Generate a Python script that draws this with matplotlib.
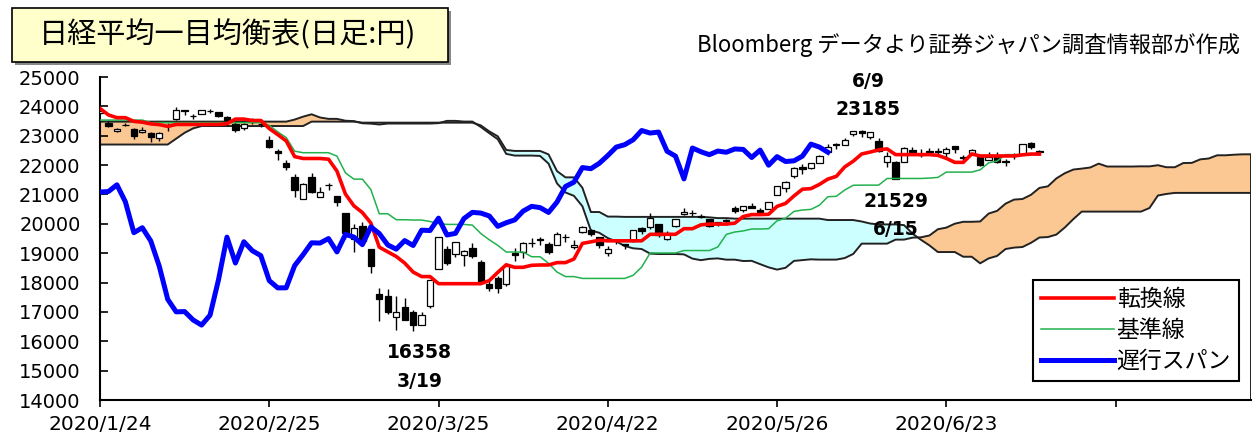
import numpy as np
import matplotlib
matplotlib.use("Agg")
import matplotlib.pyplot as plt
from matplotlib.patches import Rectangle

plt.rcParams['font.family'] = ['DejaVu Sans', 'Noto Sans CJK JP']

# -- DAILY CANDLES (2020/1/24 .. 2020/7/8, trading days)
opens = [23757, 23431, 23171, 23381, 23227, 23116, 23080, 22919, 23325, 23554,
         23884, 23658, 23743, 23850, 23800, 23644, 23410, 23269, 23491, 23412,
         22849, 22483, 22085, 21602, 20849, 21590, 20897, 21321, 20950, 20355,
         19474, 19923, 19140, 17600, 17558, 16824, 17154, 16995, 16570, 17206,
         18446, 19149, 18960, 18933, 19181, 18687, 17934, 18150, 17941, 19005,
         19032, 19334, 19446, 19318, 19278, 19548, 19212, 19736, 19795, 19554,
         18993, 19403, 19329, 19422, 19873, 19876, 20007, 19468, 19915, 20336,
         20367, 20239, 20160, 20050, 20087, 20545, 20465, 20610, 20463, 20519,
         20993, 21232, 21629, 21920, 21889, 22075, 22432, 22735, 22697, 23052,
         23177, 22951, 22811, 22109, 22101, 22107, 22518, 22340, 22455, 22475,
         22404, 22657, 22251, 22398, 22263, 22187, 22298, 22090, 22321, 22389,
         22749, 22493]
highs = [23863, 23512, 23271, 23444, 23279, 23293, 23136, 23114, 23433, 23995,
         23891, 23743, 23875, 23900, 23800, 23661, 23466, 23440, 23601, 23553,
         22977, 22553, 22174, 21697, 21394, 21719, 21245, 21399, 20950, 20355,
         19980, 20048, 19158, 17800, 17785, 17557, 17480, 17079, 16995, 18100,
         19564, 19241, 19389, 19114, 19336, 18784, 18132, 18207, 18593, 19188,
         19394, 19528, 19550, 19368, 19712, 19649, 19452, 19922, 19807, 19554,
         19247, 19477, 19329, 19783, 19903, 20365, 20007, 19745, 20179, 20534,
         20460, 20340, 20170, 20072, 20156, 20593, 20595, 20726, 20523, 20747,
         21285, 21456, 21926, 22022, 22062, 22345, 22710, 22740, 22907, 23178,
         23185, 23135, 22930, 22429, 22145, 22616, 22618, 22538, 22582, 22578,
         22625, 22657, 22354, 22552, 22263, 22437, 22441, 22196, 22410, 22735,
         22787, 22519]
lows = [23739, 23301, 23115, 23341, 22892, 23097, 22775, 22826, 23151, 23523,
        23716, 23573, 23726, 23773, 23623, 23335, 23138, 23193, 23397, 23304,
        22587, 22177, 21845, 20916, 20849, 21050, 20897, 21136, 20613, 19475,
        19049, 19305, 18339, 16690, 16914, 16378, 16720, 16358, 16570, 17130,
        18446, 18612, 18878, 18578, 18834, 18034, 17707, 17646, 17889, 18743,
        18849, 19209, 19294, 18962, 19265, 19377, 19152, 19683, 19586, 19164,
        18920, 19329, 19134, 19396, 19644, 19838, 19563, 19448, 19907, 20299,
        20272, 20183, 19902, 19930, 19974, 20356, 20388, 20532, 20336, 20492,
        20970, 21086, 21573, 21700, 21852, 22072, 22396, 22532, 22694, 22992,
        22941, 22887, 22446, 21920, 21529, 22100, 22443, 22286, 22348, 22389,
        22246, 22422, 22152, 22367, 21964, 22187, 22081, 21965, 22212, 22382,
        22562, 22349]
closes = [23827, 23343, 23215, 23379, 22977, 23205, 22971, 23084, 23319, 23873,
          23827, 23685, 23861, 23827, 23687, 23523, 23194, 23400, 23479, 23386,
          22605, 22426, 21948, 21142, 21344, 21082, 21100, 21329, 20749, 19698,
          19867, 19416, 18559, 17431, 17002, 17011, 16726, 16552, 16887, 18092,
          19546, 18664, 19389, 19084, 18917, 18065, 17819, 17820, 18576, 18950,
          19353, 19345, 19498, 19043, 19638, 19550, 19290, 19897, 19669, 19280,
          19138, 19429, 19262, 19783, 19771, 20193, 19619, 19675, 20179, 20390,
          20366, 20267, 19915, 20037, 20133, 20433, 20595, 20552, 20388, 20741,
          21271, 21419, 21916, 21877, 22062, 22325, 22613, 22695, 22863, 23178,
          23091, 23124, 22472, 22305, 21530, 22582, 22455, 22355, 22478, 22437,
          22549, 22534, 22259, 22512, 21995, 22288, 22122, 22145, 22306, 22714,
          22614, 22438]

# -- ICHIMOKU LINES
tenkan = [23927, 23708, 23615, 23615, 23488, 23462, 23403, 23379, 23319, 23385,
          23385, 23385, 23385, 23385, 23385, 23410, 23567, 23567, 23519, 23519,
          23244, 23039, 22823, 22289, 22225, 22225, 22225, 22201, 21795, 21014,
          20612, 20384, 20029, 19205, 19045, 18889, 18664, 18357, 18203, 18203,
          17961, 17961, 17961, 17961, 17961, 17961, 18067, 18347, 18605, 18518,
          18520, 18587, 18598, 18598, 18679, 18679, 18801, 19333, 19386, 19442,
          19421, 19421, 19421, 19421, 19421, 19643, 19643, 19643, 19643, 19834,
          19834, 19965, 19991, 19991, 19991, 20021, 20249, 20314, 20314, 20325,
          20594, 20693, 20950, 21179, 21199, 21341, 21523, 21616, 21939, 22132,
          22379, 22443, 22519, 22553, 22357, 22357, 22357, 22357, 22357, 22332,
          22230, 22093, 22093, 22379, 22311, 22311, 22311, 22311, 22311, 22350,
          22376, 22376]
kijun = [23533, 23533, 23533, 23533, 23533, 23533, 23445, 23445, 23445, 23445,
         23445, 23445, 23445, 23445, 23445, 23445, 23445, 23445, 23445, 23445,
         23351, 23130, 22938, 22474, 22422, 22422, 22422, 22422, 22304, 21735,
         21522, 21522, 21167, 20343, 20343, 20139, 20139, 20129, 20129, 20079,
         20010, 19980, 19980, 19980, 19956, 19668, 19456, 19266, 19039, 19039,
         19039, 18879, 18879, 18654, 18357, 18203, 18203, 18140, 18140, 18140,
         18140, 18140, 18140, 18246, 18526, 19006, 19006, 19006, 19006, 19090,
         19090, 19090, 19090, 19212, 19639, 19721, 19758, 19823, 19823, 19834,
         20103, 20188, 20423, 20471, 20491, 20633, 20922, 20937, 21152, 21313,
         21317, 21317, 21317, 21544, 21544, 21544, 21544, 21544, 21558, 21580,
         21761, 21761, 21761, 21761, 21839, 22078, 22136, 22357, 22357, 22357,
         22357, 22357]
span_a = [23480, 23480, 23480, 23480, 23480, 23480, 23480, 23480, 23480, 23480,
          23480, 23480, 23480, 23480, 23480, 23480, 23480, 23480, 23480, 23480,
          23480, 23480, 23480, 23550, 23650, 23730, 23621, 23574, 23574, 23511,
          23498, 23424, 23412, 23382, 23415, 23415, 23415, 23415, 23415, 23415,
          23428, 23506, 23506, 23482, 23482, 23298, 23085, 22881, 22382, 22324,
          22324, 22324, 22312, 22050, 21375, 21067, 20953, 20598, 19774, 19694,
          19514, 19402, 19243, 19166, 19141, 18986, 18971, 18971, 18971, 18959,
          18815, 18762, 18807, 18822, 18779, 18780, 18733, 18739, 18626, 18518,
          18441, 18502, 18737, 18763, 18791, 18781, 18781, 18781, 18834, 18974,
          19325, 19325, 19325, 19325, 19462, 19462, 19528, 19541, 19602, 19815,
          19871, 20004, 20069, 20069, 20080, 20349, 20441, 20687, 20825, 20845,
          20987, 21223, 21277, 21546, 21723, 21848, 21880, 21918, 22049, 21951,
          21951, 21951, 21951, 21958, 21956, 21996, 21927, 21927, 22070, 22075,
          22195, 22224, 22334, 22334, 22354, 22367, 22367]
span_b = [22700, 22700, 22700, 22700, 22700, 22700, 22700, 22700, 22700, 22900,
          23100, 23250, 23330, 23330, 23330, 23330, 23330, 23330, 23330, 23330,
          23330, 23330, 23330, 23330, 23330, 23480, 23480, 23480, 23480, 23480,
          23480, 23445, 23445, 23445, 23445, 23445, 23445, 23445, 23445, 23445,
          23445, 23445, 23445, 23445, 23445, 23351, 23146, 22980, 22515, 22482,
          22482, 22482, 22482, 22364, 21795, 21582, 21582, 21227, 20402, 20402,
          20246, 20246, 20236, 20236, 20236, 20236, 20236, 20236, 20236, 20236,
          20236, 20236, 20220, 20194, 20194, 20176, 20176, 20176, 20176, 20176,
          20176, 20176, 20176, 20176, 20176, 20176, 20129, 20129, 20129, 20129,
          20079, 20010, 19980, 19980, 19980, 19956, 19668, 19456, 19266, 19039,
          19039, 19039, 18879, 18879, 18654, 18822, 18907, 19142, 19190, 19210,
          19352, 19534, 19549, 19633, 19874, 20158, 20416, 20416, 20416, 20416,
          20416, 20416, 20416, 20416, 20537, 20964, 21017, 21053, 21053, 21053,
          21053, 21053, 21053, 21053, 21053, 21053, 21053]

lag = 25  # chikou span drawn 25 sessions back
tick_pos = [0, 20, 40, 60, 80, 100, 120]
tick_labels = ['2020/1/24', '2020/2/25', '2020/3/25', '2020/4/22',
               '2020/5/26', '2020/6/23', '']
marks = [(37.8, 15620, '16358'), (37.8, 14640, '3/19'),
         (90.8, 24860, '6/9'), (90.8, 23880, '23185'),
         (94.0, 20770, '21529'), (94.0, 19790, '6/15')]


def main():
    o = np.array(opens)
    h = np.array(highs)
    l = np.array(lows)
    c = np.array(closes)
    a = np.array(span_a)
    b = np.array(span_b)
    x = np.arange(len(c))
    xs = np.arange(len(a))

    fig = plt.figure(figsize=(12.56, 4.34), dpi=100)
    ax = fig.add_axes([100/1256, 34/434, 1151/1256, 323/434])

    # -- CLOUD
    ax.fill_between(xs, a, b, where=a >= b, interpolate=True,
                    color='#FBC894', lw=0, zorder=1)
    ax.fill_between(xs, a, b, where=a < b, interpolate=True,
                    color='#CCFFFF', lw=0, zorder=1)
    ax.plot(xs, a, color='#222222', lw=1.4, zorder=2)
    ax.plot(xs, b, color='#222222', lw=1.4, zorder=2)
    ax.vlines(xs[-1], 14000, a[-1], color='#222222', lw=1.4, zorder=2)

    # -- CANDLES
    up = c >= o
    ax.vlines(x, l, h, color='black', lw=1, zorder=3)
    ax.bar(x, np.abs(c - o), bottom=np.minimum(o, c), width=0.75,
           color=np.where(up, 'white', 'black'), edgecolor='black',
           lw=0.9, zorder=3.5)

    # -- LINES
    ax.plot(x, kijun, color='#22B14C', lw=1.1, zorder=4, label='基準線')
    ax.plot(x, tenkan, color='#FF0000', lw=2.6, zorder=5, label='転換線')
    ax.plot(x[:len(c) - lag], c[lag:], color='#0000FF', lw=3.6, zorder=6,
            label='遅行スパン')

    for mx, my, s in marks:
        ax.text(mx, my, s, ha='center', va='center', fontsize=13.5,
                fontweight='bold', family='DejaVu Sans', zorder=7)

    ax.set_xlim(0, len(a) - 1)
    ax.set_ylim(14000, 25000)
    ax.set_yticks(range(14000, 25001, 1000))
    ax.set_xticks(tick_pos)
    ax.set_xticklabels(tick_labels, fontsize=14.5)
    ax.tick_params(axis='y', direction='in', length=6, width=1.2, pad=14,
                   labelsize=14)
    ax.tick_params(axis='x', direction='out', length=5, width=1.2, pad=6)
    for side in ['top', 'right']:
        ax.spines[side].set_visible(False)
    for side in ['left', 'bottom']:
        ax.spines[side].set_linewidth(1.5)

    hd, lb = ax.get_legend_handles_labels()
    order = [1, 0, 2]
    leg = ax.legend([hd[i] for i in order], [lb[i] for i in order],
                    loc='lower right', bbox_to_anchor=(0.9896, 0.059),
                    borderaxespad=0, handlelength=3.2, handletextpad=0.1,
                    labelspacing=0.35, borderpad=0.35, fancybox=False,
                    framealpha=1, edgecolor='black',
                    prop={'family': ['Noto Sans CJK JP'], 'size': 16.5})
    leg.get_frame().set_linewidth(1.5)
    leg.set_zorder(10)

    # -- TITLE BOX AND SOURCE
    fig.patches.append(Rectangle((15/1256, 1 - 65/434), 436/1256, 54/434,
                                 transform=fig.transFigure, facecolor='#888888',
                                 edgecolor='none'))
    fig.patches.append(Rectangle((12/1256, 1 - 62/434), 436/1256, 54/434,
                                 transform=fig.transFigure, facecolor='#FFFFCC',
                                 edgecolor='black', lw=1.2))
    fig.text(228/1256, 1 - 35/434, '日経平均一目均衡表(日足:円)',
             ha='center', va='center', fontsize=21, family='Noto Sans CJK JP')
    fig.text(1240/1256, 1 - 45/434, 'Bloomberg データより証券ジャパン調査情報部が作成',
             ha='right', va='center', fontsize=16,
             family=['Noto Sans CJK JP', 'DejaVu Sans'])

    fig.savefig('out.png', dpi=100)


main()
